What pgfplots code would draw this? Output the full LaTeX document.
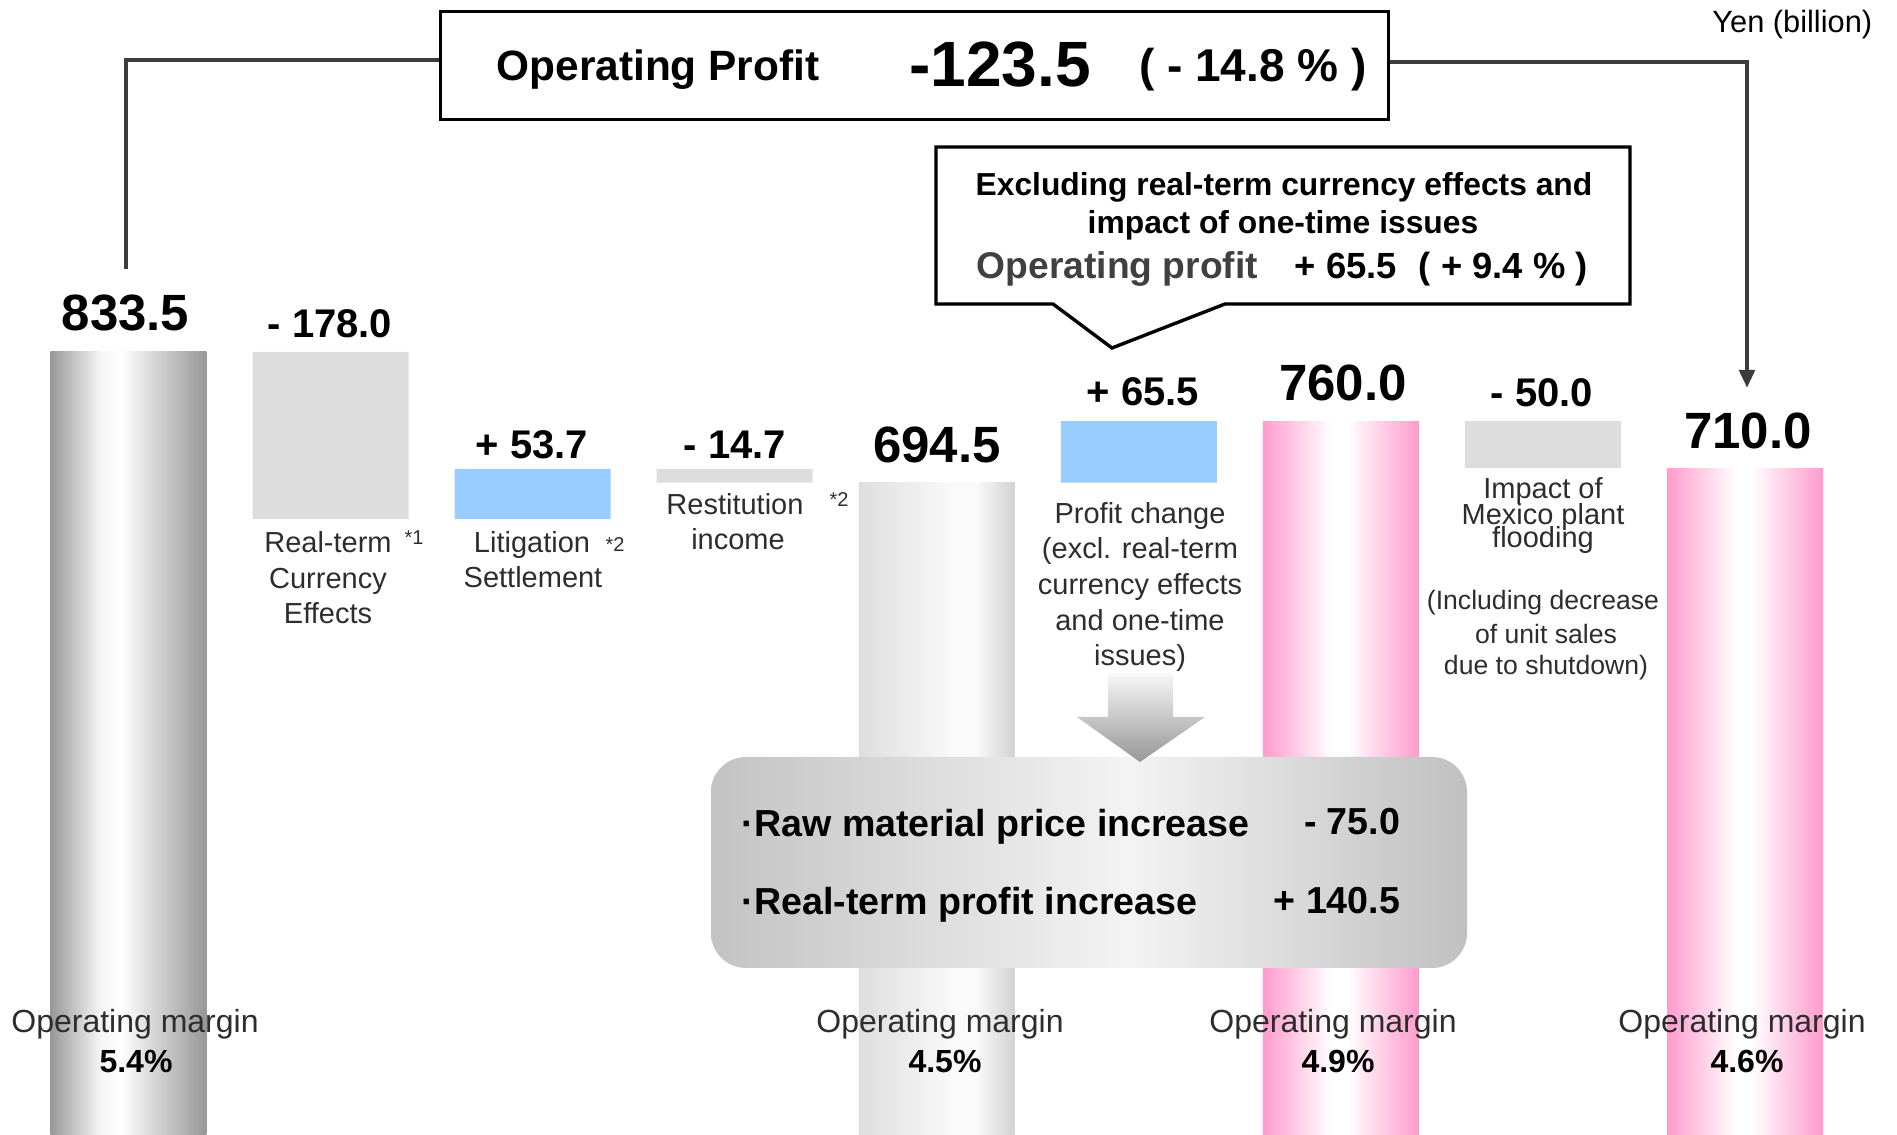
\documentclass[border=0pt]{standalone}
\usepackage{pgfplots}
\pgfplotsset{compat=1.18}
\usepackage{fontspec}
\setmainfont{Liberation Sans}
\usetikzlibrary{arrows.meta}

\definecolor{pinkc}{RGB}{255,155,205}
\definecolor{bluec}{RGB}{153,204,255}
\definecolor{grayc}{RGB}{221,221,221}
\definecolor{txtgray}{RGB}{45,45,45}
\definecolor{linegray}{RGB}{60,60,60}
\definecolor{silA}{RGB}{152,152,152}
\definecolor{silB}{RGB}{246,246,246}
\definecolor{silC}{RGB}{150,150,150}
\definecolor{lgA}{RGB}{222,222,222}
\definecolor{lgB}{RGB}{250,250,250}
\definecolor{lgC}{RGB}{210,210,210}
\definecolor{bxA}{RGB}{195,195,195}
\definecolor{bxB}{RGB}{243,243,243}
\definecolor{bxC}{RGB}{215,215,215}
\definecolor{bxD}{RGB}{192,192,192}
\definecolor{arA}{RGB}{248,248,248}
\definecolor{arB}{RGB}{150,150,150}
\definecolor{opgray}{RGB}{64,64,64}

\pgfdeclarehorizontalshading{silverbar}{100bp}{color(0bp)=(silA); color(25bp)=(silA); color(41bp)=(silB); color(47.5bp)=(white); color(75bp)=(silC); color(100bp)=(silC)}
\pgfdeclarehorizontalshading{lightbar}{100bp}{color(0bp)=(lgA); color(25bp)=(lgA); color(56bp)=(lgB); color(62.5bp)=(lgB); color(75bp)=(lgC); color(100bp)=(lgC)}
\pgfdeclarehorizontalshading{pinkbar}{100bp}{color(0bp)=(pinkc); color(25bp)=(pinkc); color(47bp)=(white); color(52bp)=(white); color(75bp)=(pinkc); color(100bp)=(pinkc)}
\pgfdeclarehorizontalshading{boxshade}{100bp}{color(0bp)=(bxA); color(25bp)=(bxA); color(52.5bp)=(bxB); color(65bp)=(bxC); color(75bp)=(bxD); color(100bp)=(bxD)}

\pgfplotsset{wf/.style={scale only axis, width=474.25pt, height=283.75pt,
  at={(0pt,0pt)}, anchor=south west,
  xmin=-0.6359, xmax=8.7524, ymin=0, ymax=1208.2, hide axis, clip=false}}

\tikzset{
 bnum/.style={anchor=base, inner sep=0pt, font=\bfseries\fontsize{12.75}{15}\selectfont},
 snum/.style={anchor=base, inner sep=0pt, font=\bfseries\fontsize{10}{12}\selectfont},
 cat/.style={anchor=base, inner sep=0pt, text=txtgray, font=\fontsize{7.25}{9}\selectfont},
 note/.style={anchor=base, inner sep=0pt, text=txtgray, font=\fontsize{6.65}{8}\selectfont},
 star/.style={anchor=base, inner sep=0pt, text=txtgray, font=\fontsize{5}{6}\selectfont},
 om/.style={anchor=base, inner sep=0pt, text=txtgray, font=\fontsize{8}{9.6}\selectfont},
 omp/.style={anchor=base, inner sep=0pt, font=\bfseries\fontsize{8}{9.6}\selectfont},
}

\begin{document}
\begin{tikzpicture}
\useasboundingbox (0pt,0pt) rectangle (474.25pt,283.75pt);

% full bars (start at zero)
\begin{axis}[wf]
\addplot[ybar, bar width=0.772, bar shift=0pt, draw=none, shade, shading=silverbar] coordinates {(0,833.5)};
\addplot[ybar, bar width=0.772, bar shift=0pt, draw=none, shade, shading=lightbar] coordinates {(4,694.5)};
\addplot[ybar, bar width=0.772, bar shift=0pt, draw=none, shade, shading=pinkbar] coordinates {(6,760.0)};
\addplot[ybar, bar width=0.772, bar shift=0pt, draw=none, shade, shading=pinkbar] coordinates {(8,710.0)};
\end{axis}

% floating bars (waterfall steps)
\begin{axis}[wf, ybar stacked, bar width=0.772]
\addplot[draw=none, fill=none] coordinates {(1,655.5) (2,655.5) (3,694.5) (5,694.5) (7,710.0)};
\addplot[draw=none, fill=grayc] coordinates {(1,178.0) (2,0) (3,14.7) (5,0) (7,50.0)};
\addplot[draw=none, fill=bluec] coordinates {(1,0) (2,53.7) (3,0) (5,65.5) (7,0)};
\end{axis}

\begin{scope}[x=0.25pt, y=-0.25pt, shift={(0pt,283.75pt)}]
% connectors
\draw[linegray, line width=1.1pt] (126,269) -- (126,60) -- (440,60);
\draw[linegray, line width=1.1pt, -{Triangle[length=4.5pt,width=3.8pt]}] (1388,62) -- (1747,62) -- (1747,388);
% title box
\draw[line width=0.75pt, fill=white] (440,12) rectangle (1388,120);
\node[anchor=base, inner sep=0pt, font=\bfseries\fontsize{10.6}{12}\selectfont] at (658,81) {Operating Profit};
\node[anchor=base, inner sep=0pt, font=\bfseries\fontsize{16}{18}\selectfont] at (1000,87) {-123.5};
\node[anchor=base, inner sep=0pt, font=\bfseries\fontsize{11.5}{13}\selectfont] at (1253,82) {( - 14.8 \% )};
\node[anchor=base east, inner sep=0pt, font=\fontsize{7.7}{9}\selectfont] at (1873,33) {Yen (billion)};

% callout
\draw[line width=0.85pt, fill=white] (936,147) -- (1630,147) -- (1630,304) -- (1225,304) -- (1112,348) -- (1053,304) -- (936,304) -- cycle;
\node[anchor=base, inner sep=0pt, font=\bfseries\fontsize{7.95}{9}\selectfont] at (1284,196) {Excluding real-term currency effects and};
\node[anchor=base, inner sep=0pt, font=\bfseries\fontsize{7.95}{9}\selectfont] at (1283,234) {impact of one-time issues};
\node[anchor=base west, inner sep=0pt, text=opgray, font=\bfseries\fontsize{9.3}{11}\selectfont] at (976,279) {Operating profit};
\node[anchor=base west, inner sep=0pt, font=\bfseries\fontsize{9.1}{11}\selectfont] at (1294,279) {+ 65.5};
\node[anchor=base west, inner sep=0pt, font=\bfseries\fontsize{9.1}{11}\selectfont] at (1418,279) {( + 9.4 \% )};

% bar values
\node[bnum] at (125.5,331) {833.5};
\node[snum] at (330,338) {- 178.0};
\node[snum] at (532,459) {+ 53.7};
\node[snum] at (735,459) {- 14.7};
\node[bnum] at (937,463) {694.5};
\node[snum] at (1143,406) {+ 65.5};
\node[bnum] at (1343,401) {760.0};
\node[snum] at (1542,407) {- 50.0};
\node[bnum] at (1748,449) {710.0};

% category labels
\node[cat] at (328,553) {Real-term};
\node[cat] at (328,589) {Currency};
\node[cat] at (328,624) {Effects};
\node[star] at (414,545) {*1};
\node[cat] at (532,553) {Litigation};
\node[cat] at (533,588) {Settlement};
\node[star] at (615,552) {*2};
\node[cat] at (735,515) {Restitution};
\node[cat] at (738,550) {income};
\node[star] at (839,507) {*2};
\node[cat] at (1140,524) {Profit change};
\node[cat] at (1140,559) {(excl. real-term};
\node[cat] at (1140,595) {currency effects};
\node[cat] at (1140,631) {and one-time};
\node[cat] at (1140,666) {issues)};
\node[cat] at (1543,499) {Impact of};
\node[cat] at (1543,525) {Mexico plant};
\node[cat] at (1543,548) {flooding};
\node[note] at (1543,610) {(Including decrease};
\node[note] at (1546,644) {of unit sales};
\node[note] at (1546,675) {due to shutdown)};

% rounded box with arrow
\shade[shading=boxshade, rounded corners=8.75pt] (711,757) rectangle (1467,968);
\shade[top color=arA, bottom color=arB] (1108,673) -- (1173,673) -- (1173,717) -- (1205,717) -- (1140,762) -- (1077,717) -- (1108,717) -- cycle;
\node[anchor=base west, inner sep=0pt, font=\bfseries\fontsize{9.4}{11}\selectfont] at (741,837) {·Raw material price increase};
\node[anchor=base east, inner sep=0pt, font=\bfseries\fontsize{9.4}{11}\selectfont] at (1401,835) {- 75.0};
\node[anchor=base west, inner sep=0pt, font=\bfseries\fontsize{9.4}{11}\selectfont] at (741,915) {·Real-term profit increase};
\node[anchor=base east, inner sep=0pt, font=\bfseries\fontsize{9.4}{11}\selectfont] at (1401,914) {+ 140.5};

% operating margins
\node[om] at (135,1033) {Operating margin};
\node[omp] at (136,1073) {5.4\%};
\node[om] at (940,1033) {Operating margin};
\node[omp] at (945,1073) {4.5\%};
\node[om] at (1333,1033) {Operating margin};
\node[omp] at (1338,1073) {4.9\%};
\node[om] at (1742,1033) {Operating margin};
\node[omp] at (1747,1073) {4.6\%};
\end{scope}
\end{tikzpicture}
\end{document}
